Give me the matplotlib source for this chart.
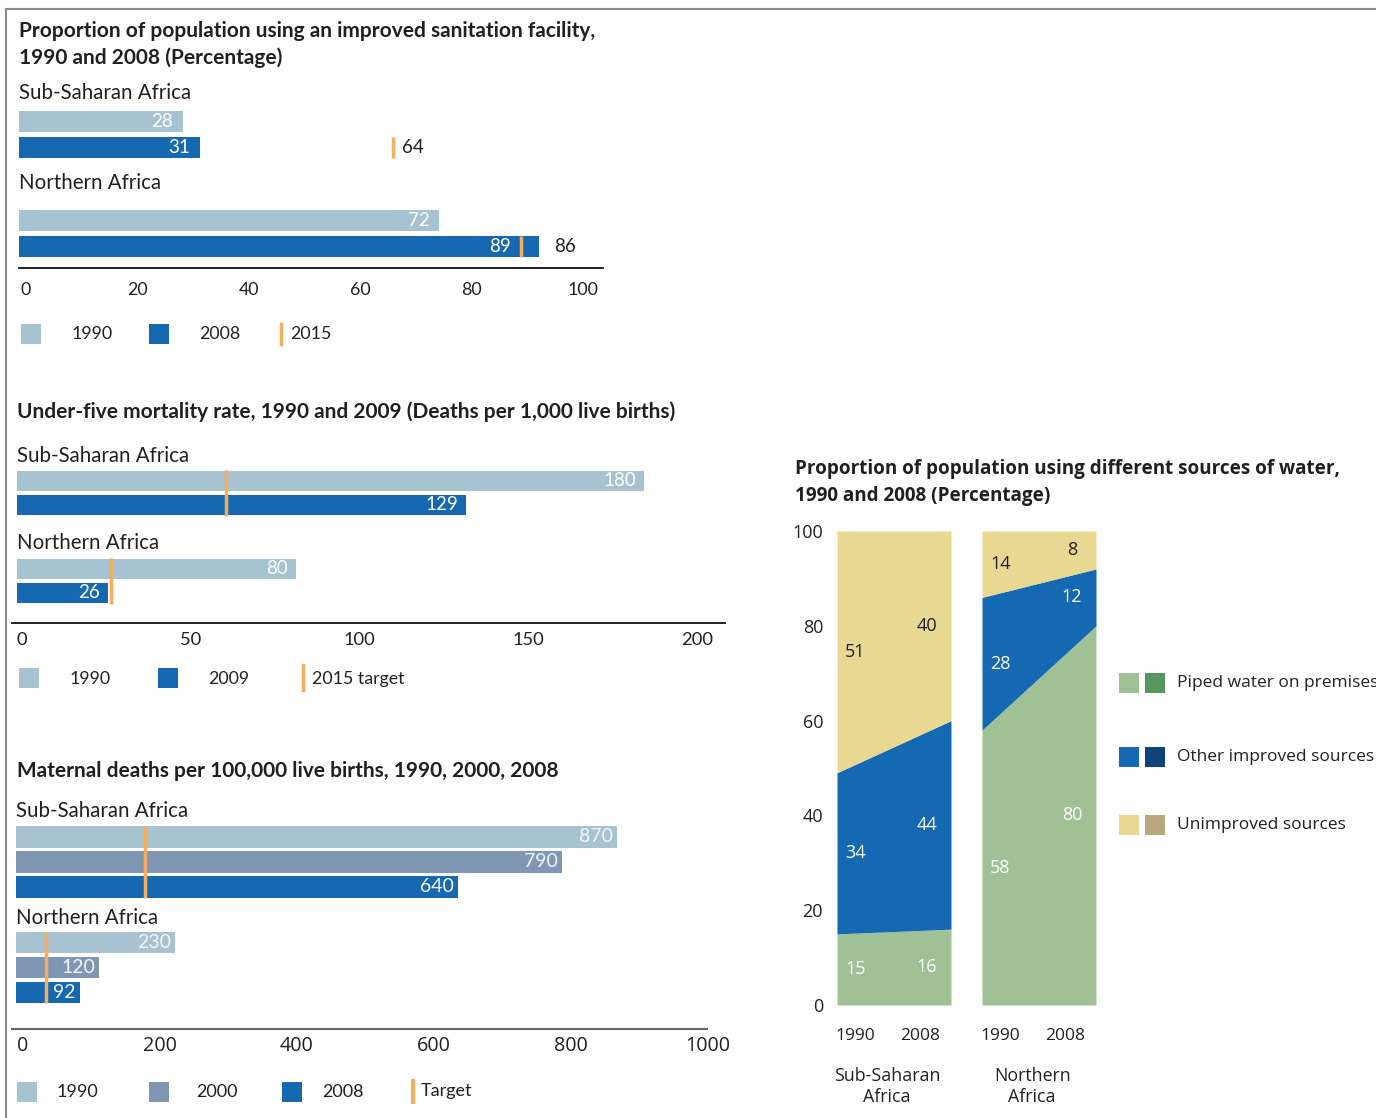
import numpy as np
import matplotlib
matplotlib.use("Agg")
import matplotlib.pyplot as plt
from matplotlib.patches import Rectangle
from matplotlib.lines import Line2D

# ---------------- data ----------------
regions = ["Sub-Saharan Africa", "Northern Africa"]

san_1990 = [28, 72]
san_2008 = [31, 89]
san_target = [64, 86]
san_ticks = [0, 20, 40, 60, 80, 100]

u5_1990 = [180, 80]
u5_2009 = [129, 26]
u5_target = [60, 27]
u5_ticks = [0, 50, 100, 150, 200]

mm_1990 = [870, 230]
mm_2000 = [790, 120]
mm_2008 = [640, 92]
mm_target = [187, 44]
mm_ticks = [0, 200, 400, 600, 800, 1000]

water_groups = ["Sub-Saharan\nAfrica", "Northern\nAfrica"]
water_years = ["1990", "2008"]
piped_ssa = [15, 16]
other_ssa = [34, 44]
unimp_ssa = [51, 40]
piped_na = [58, 80]
other_na = [28, 12]
unimp_na = [14, 8]
water_ticks = [0, 20, 40, 60, 80, 100]
water_legend = ["Piped water on premises", "Other improved sources", "Unimproved sources"]

# ---------------- style ----------------
W, H = 1376, 1118
FONT = "Lato"
FONT_W = "Open Sans"
plt.rcParams["font.family"] = [FONT, "DejaVu Sans"]
TXT = "#231f20"
C_LIGHT = "#a7c2d1"
C_DARK = "#1668b1"
C_MID = "#8097b3"
C_ORANGE = "#f6ad5f"
C_PIPED, C_PIPED2 = "#a0c196", "#57955f"
C_OTHER, C_OTHER2 = "#1569b2", "#0f4478"
C_UNIMP, C_UNIMP2 = "#e8d892", "#b9a77e"
FW = [FONT_W, "DejaVu Sans"]

fig = plt.figure(figsize=(W / 100, H / 100), dpi=100)


def T(x, y, s, size=13.5, weight="normal", color=TXT, ha="left", va="center", family=None):
    fig.text(x / W, 1 - y / H, s, fontsize=size, fontweight=weight, color=color,
             ha=ha, va=va, family=family or [FONT, "DejaVu Sans"])


def fline(x0, y0, x1, y1, color, lw):
    fig.add_artist(Line2D([x0 / W, x1 / W], [1 - y0 / H, 1 - y1 / H],
                          transform=fig.transFigure, color=color, lw=lw))


def swatch(x, y, color, w=20, h=20):
    fig.add_artist(Rectangle((x / W, 1 - (y + h / 2) / H), w / W, h / H,
                             transform=fig.transFigure, color=color, lw=0))


def box_ax(x0, x1, y0, y1, xlim):
    ax = fig.add_axes([x0 / W, 1 - y1 / H, (x1 - x0) / W, (y1 - y0) / H])
    ax.set_xlim(*xlim)
    ax.set_ylim(y1, y0)
    ax.axis("off")
    return ax


def tick_ax(x0, x1, y, lim, ticks, size=13, family=None):
    ax = fig.add_axes([x0 / W, 1 - y / H, (x1 - x0) / W, 0.001])
    ax.set_xlim(*lim)
    ax.set_xticks(ticks)
    ax.set_xticklabels([str(t) for t in ticks], fontsize=size, color=TXT,
                       family=family or [FONT, "DejaVu Sans"])
    for lb in ax.get_xticklabels():
        lb.set_va("center")
    ax.tick_params(axis="x", length=0, pad=0)
    ax.set_yticks([])
    for s in ax.spines.values():
        s.set_visible(False)
    ax.patch.set_visible(False)
    return ax


def vlabel(ax, v, row, size=13.5, color="white", pad=-8, anchor=None):
    ax.annotate(str(v), xy=(v if anchor is None else anchor, row), xytext=(pad, 0),
                textcoords="offset pixels", ha="right", va="center", color=color, fontsize=size)


# frame
fline(6, 9, W, 9, "#8a8a8a", 1.5)
fline(6, 9, 6, H, "#8a8a8a", 1.5)

TS = 15  # title size
RS = 14.8  # region label size
LS = 12.8  # legend size

# ---------------- panel 1: sanitation ----------------
T(19, 31, "Proportion of population using an improved sanitation facility,", TS, "bold")
T(19, 58, "1990 and 2008 (Percentage)", TS, "bold")
ax1 = box_ax(19, 603, 100, 268, (0, 100))
rows1 = [121.5, 220.5]
lab1 = [93, 183]
p1, h1 = 26, 21
for i in range(2):
    r = rows1[i]
    T(19, lab1[i], regions[i], RS)
    ax1.barh(r, san_1990[i], height=h1, color=C_LIGHT)
    ax1.barh(r + p1, san_2008[i], height=h1, color=C_DARK)
    vlabel(ax1, san_1990[i], r, pad=-10)
    inside = san_target[i] < san_2008[i]
    vlabel(ax1, san_2008[i], r + p1, pad=-10,
           anchor=san_target[i] if inside else None)
    ax1.vlines(san_target[i], r + p1 - h1 / 2, r + p1 + h1 / 2, color=C_ORANGE, lw=2.5)
    end = max(san_2008[i], san_target[i])
    ax1.annotate(str(san_target[i]), xy=(end, r + p1), xytext=(9 if not inside else 15, 0),
                 textcoords="offset pixels", ha="left", va="center", color=TXT, fontsize=13.5)
fline(19, 268, 603, 268, "#111111", 1.3)
tick_ax(26, 583, 290, (0, 100), san_ticks, 12.8)
swatch(21, 334, C_LIGHT); T(72, 334, "1990", LS)
swatch(149, 334, C_DARK); T(199, 334, "2008", LS)
fline(281, 324, 281, 344, C_ORANGE, 2.5); T(290, 334, "2015", LS)

# ---------------- panel 2: under-five mortality ----------------
T(17, 412, "Under-five mortality rate, 1990 and 2009 (Deaths per 1,000 live births)", TS, "bold")
ax2 = box_ax(17, 17 + 200 * 627 / 180, 465, 623, (0, 200))
rows2 = [481, 569]
lab2 = [456, 543]
p2, h2 = 24, 20
for i in range(2):
    r = rows2[i]
    T(17, lab2[i], regions[i], RS)
    ax2.barh(r, u5_1990[i], height=h2, color=C_LIGHT)
    ax2.barh(r + p2, u5_2009[i], height=h2, color=C_DARK)
    vlabel(ax2, u5_1990[i], r)
    vlabel(ax2, u5_2009[i], r + p2)
    ax2.vlines(u5_target[i], r - h2 / 2 - 1, r + p2 + h2 / 2 + 1, color=C_ORANGE, lw=2.5)
fline(12, 623, 725, 623, "#111111", 1.3)
tick_ax(22, 697, 640, (0, 200), u5_ticks, 13.2)
swatch(19, 678, C_LIGHT); T(70, 679, "1990", LS)
swatch(158, 678, C_DARK); T(208, 679, "2009", LS)
fline(303, 665, 303, 690, C_ORANGE, 2.5); T(312, 679, "2015 target", LS)

# ---------------- panel 3: maternal deaths ----------------
T(17, 771, "Maternal deaths per 100,000 live births, 1990, 2000, 2008", TS, "bold")
ax3 = box_ax(16, 707, 818, 1029, (0, 1000))
rows3 = [837, 942.5]
lab3 = [811, 918]
p3, h3 = 25, 21.5
series3 = [(mm_1990, C_LIGHT), (mm_2000, C_MID), (mm_2008, C_DARK)]
for i in range(2):
    r = rows3[i]
    T(16, lab3[i], regions[i], RS)
    for k, (vals, col) in enumerate(series3):
        ax3.barh(r + k * p3, vals[i], height=h3, color=col)
        vlabel(ax3, vals[i], r + k * p3, pad=-4, color="#f4f4f4", size=14)
    ax3.vlines(mm_target[i], r - h3 / 2, r + 2 * p3 + h3 / 2, color=C_ORANGE, lw=2.5)
fline(12, 1029, 707, 1029, "#666666", 1.5)
tick_ax(23, 708, 1046, (0, 1000), mm_ticks, 14.2, family=FW)
swatch(17, 1092, C_LIGHT); T(57, 1092, "1990", 13)
swatch(149, 1092, C_MID); T(196, 1092, "2000", 13)
swatch(282, 1092, C_DARK); T(322, 1092, "2008", 13)
fline(413, 1081, 413, 1102, C_ORANGE, 3); T(421, 1091, "Target", 13)

# ---------------- panel 4: water sources ----------------
T(795, 469, "Proportion of population using different sources of water,", 13.6, "bold", family=FW)
T(795, 496, "1990 and 2008 (Percentage)", 13.6, "bold", family=FW)
ax4 = fig.add_axes([837 / W, 1 - 1005 / H, (1096 - 837) / W, (1005 - 531) / H])
gap = 31 / 114
starts = [0, 1 + gap]
groups = [(piped_ssa, other_ssa, unimp_ssa), (piped_na, other_na, unimp_na)]
lab_x = [0.16, 0.79]
xt, xtl = [], []
for g, (p, o, u) in zip(starts, groups):
    p, o, u = np.array(p), np.array(o), np.array(u)
    x = [g, g + 1]
    b1 = p
    b2 = p + o
    b3 = p + o + u
    ax4.fill_between(x, 0, b1, color=C_PIPED, lw=0)
    ax4.fill_between(x, b1, b2, color=C_OTHER, lw=0)
    ax4.fill_between(x, b2, b3, color=C_UNIMP, lw=0)
    for j in range(2):
        xx = g + lab_x[j]
        for lo, hi, val, col in [(0, b1[j], p[j], "white"), (b1[j], b2[j], o[j], "white"),
                                 (b2[j], b3[j], u[j], TXT)]:
            ax4.text(xx, (lo + hi) / 2, str(val), ha="center", va="center", color=col,
                     fontsize=13, family=FW)
    xt += [g + 0.16, g + 0.73]
    xtl += water_years
ax4.set_xlim(0, 2 + gap)
ax4.set_ylim(0, 100)
ax4.set_yticks(water_ticks)
ax4.set_yticklabels([str(t) for t in water_ticks], fontsize=13, color=TXT, family=FW)
ax4.set_xticks(xt)
ax4.set_xticklabels(xtl, fontsize=12.5, color=TXT, family=FW)
for lb in ax4.get_xticklabels():
    lb.set_va("center")
ax4.tick_params(axis="y", length=0, pad=10)
ax4.tick_params(axis="x", length=0, pad=22)
for s in ax4.spines.values():
    s.set_visible(False)
ax4.patch.set_visible(False)
for g, name in zip(starts, water_groups):
    ax4.text(g + 0.44, -0.172, name, transform=ax4.get_xaxis_transform(), ha="center", va="center",
             fontsize=12.8, color=TXT, family=FW, linespacing=1.25)

leg_rows = [683, 757, 825]
leg_cols = [(C_PIPED, C_PIPED2), (C_OTHER, C_OTHER2), (C_UNIMP, C_UNIMP2)]
for yy, (c1, c2), name in zip(leg_rows, leg_cols, water_legend):
    swatch(1119, yy, c1)
    swatch(1145, yy, c2)
    T(1177, yy, name, 12.5, family=FW)

fig.savefig("out.png", dpi=100)
